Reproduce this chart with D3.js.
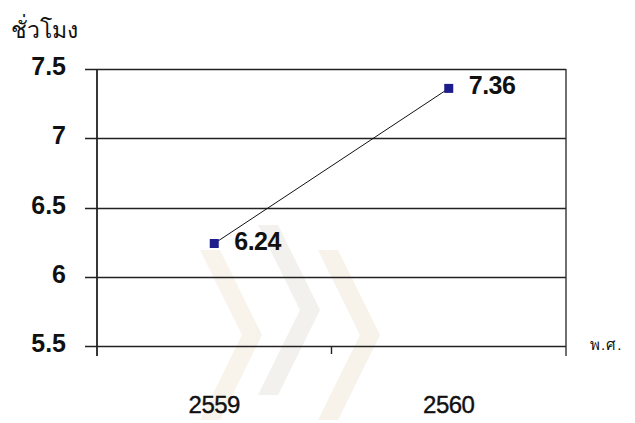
<!DOCTYPE html>
<html>
<head>
<meta charset="utf-8">
<script src="https://cdn.jsdelivr.net/npm/d3@7"></script>
<style>
  body { margin: 0; background: #fff; }
  svg text { font-family: "Liberation Sans", "DejaVu Sans", sans-serif; fill: #111; }
</style>
</head>
<body>
<div id="chart"></div>
<script>
// data
var years = ["2559", "2560"]
var hours = [6.24, 7.36]
var yTicks = [5.5, 6, 6.5, 7, 7.5]
var yTitle = "ชั่วโมง"
var xTitle = "พ.ศ."

var width = 635, height = 423
var plot = { left: 97, right: 566, top: 69, bottom: 346 }

var svg = d3.select("#chart")
    .append("svg")
    .attr("width", width)
    .attr("height", height)

var x = d3.scaleBand()
    .domain(years)
    .range([plot.left, plot.right])

var y = d3.scaleLinear()
    .domain([5.5, 7.5])
    .range([plot.bottom, plot.top])

// faint watermark in the background
var wm = svg.append("g").attr("opacity", 0.3)
var chev = [[0, 0], [20, 0], [62, 85], [20, 170], [0, 170], [42, 85]]
;[[200, 250, "#e8d9c0"], [258, 225, "#d9d2c8"], [318, 250, "#e8d9c0"]].forEach(function (c) {
    wm.append("polygon")
        .attr("points", chev.map(function (p) { return (p[0] + c[0]) + "," + (p[1] + c[1]) }).join(" "))
        .attr("fill", c[2])
})

// gridlines (with left tick stubs)
svg.append("g")
    .selectAll("line")
    .data(yTicks)
    .enter()
    .append("line")
    .attr("x1", plot.left - 12)
    .attr("x2", plot.right)
    .attr("y1", function (d) { return Math.round(y(d)) + 0.5 })
    .attr("y2", function (d) { return Math.round(y(d)) + 0.5 })
    .attr("stroke", "#222")
    .attr("stroke-width", 1.6)

// y tick labels
svg.append("g")
    .selectAll("text")
    .data(yTicks)
    .enter()
    .append("text")
    .attr("x", 66)
    .attr("y", function (d) { return y(d) + 6 })
    .attr("text-anchor", "end")
    .attr("font-size", 25)
    .attr("font-weight", "bold")
    .text(function (d) { return d })

// left axis + right border
svg.append("line")
    .attr("x1", plot.left).attr("x2", plot.left)
    .attr("y1", plot.top).attr("y2", plot.bottom + 10)
    .attr("stroke", "#222").attr("stroke-width", 1.8)
svg.append("line")
    .attr("x1", plot.right).attr("x2", plot.right)
    .attr("y1", plot.top).attr("y2", plot.bottom + 10)
    .attr("stroke", "#333").attr("stroke-width", 1.4)

// category tick between bands
svg.append("line")
    .attr("x1", x("2560")).attr("x2", x("2560"))
    .attr("y1", plot.bottom).attr("y2", plot.bottom + 8)
    .attr("stroke", "#222").attr("stroke-width", 1.4)

// x labels
svg.append("g")
    .selectAll("text")
    .data(years)
    .enter()
    .append("text")
    .attr("x", function (d) { return x(d) + x.bandwidth() / 2 })
    .attr("y", 413)
    .attr("text-anchor", "middle")
    .attr("font-size", 24)
    .attr("letter-spacing", -0.5)
    .attr("stroke", "#111")
    .attr("stroke-width", 0.4)
    .text(function (d) { return d })

// line
var pts = years.map(function (d, i) { return [x(d) + x.bandwidth() / 2, y(hours[i])] })
svg.append("path")
    .attr("d", d3.line()(pts))
    .attr("fill", "none")
    .attr("stroke", "#111")
    .attr("stroke-width", 1)

// markers
svg.append("g")
    .selectAll("rect")
    .data(pts)
    .enter()
    .append("rect")
    .attr("x", function (d) { return d[0] - 4.5 })
    .attr("y", function (d) { return d[1] - 4.5 })
    .attr("width", 9)
    .attr("height", 9)
    .attr("fill", "#1c1c8c")

// value labels
svg.append("g")
    .selectAll("text")
    .data(hours)
    .enter()
    .append("text")
    .attr("x", function (d, i) { return pts[i][0] + 20 })
    .attr("y", function (d, i) { return pts[i][1] + 6 })
    .attr("font-size", 25)
    .attr("font-weight", "bold")
    .attr("letter-spacing", -0.5)
    .text(function (d) { return d.toFixed(2) })

// axis titles
svg.append("text")
    .attr("x", 11)
    .attr("y", 38)
    .attr("font-size", 23)
    .attr("font-family", "Noto Sans, DejaVu Sans, sans-serif")
    .text(yTitle)

svg.append("text")
    .attr("x", 590)
    .attr("y", 350)
    .attr("font-size", 15)
    .attr("letter-spacing", 1)
    .attr("font-family", "Noto Sans, DejaVu Sans, sans-serif")
    .attr("fill", "#333")
    .text(xTitle)
</script>
</body>
</html>
